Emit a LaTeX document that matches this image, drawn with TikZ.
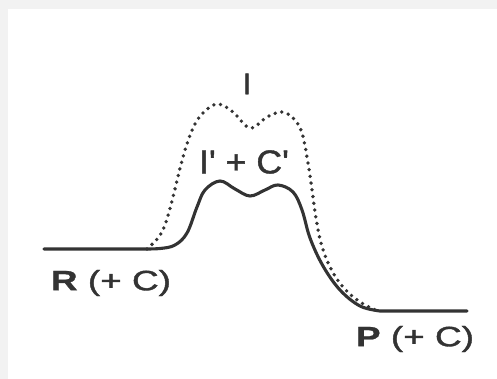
\documentclass[tikz,border=0pt]{standalone}
\usepackage{fontspec}
\setmainfont{Liberation Sans}
\newfontface\lblreg{Liberation Sans}[RawFeature={embolden=1.2}]
\newfontface\lblbold{Liberation Sans Bold}[RawFeature={embolden=0.8}]
\definecolor{ink}{HTML}{333333}
\definecolor{frame}{HTML}{F2F2F2}
\tikzset{
  curve/.style={draw=ink, line width=3.1pt, line cap=round, line join=round},
  dotcurve/.style={draw=ink, line width=3.8pt, line cap=round, dash pattern=on 0pt off 6.8pt},
  lbl/.style={text=ink, inner sep=0pt}
}
\begin{document}
\begin{tikzpicture}[x=1pt,y=-1pt]
\useasboundingbox (0,0) rectangle (497,379);
\fill[frame] (0,0) rectangle (497,379);
\fill[white] (8,9) rectangle (497,379);
% dotted profile
\draw[dotcurve] plot[smooth, tension=0.6] coordinates {
 (147,249) (158,238) (165,225) (173,197) (183,157) (193,128) (204,112) (218,104)
 (233,112) (250,128) (267,117) (282,112) (294,119) (302,133) (308,163)
 (312,190) (316,218) (321,243) (330,267) (343,287) (360,302) (378,311)};
% solid profile
\draw[curve] (44,249) -- (140,249)
  plot[smooth, tension=0.6] coordinates {
 (140,249) (160,248.5) (175,245) (187,233) (197,207) (205,190) (220,181)
 (235,189) (250,196) (265,190) (278,185) (293,192) (302,210) (310,238)
 (323,266) (340,290) (360,306) (380,311)} -- (467,311);
% labels
\node[lbl, font=\lblreg\fontsize{30}{30}\selectfont] (i) at (247,84) {I};
\node[lbl, font=\lblreg\fontsize{33}{33}\selectfont] (ic) at (244,162) {\scalebox{1.08}[1]{I' + C'}};
\node[lbl, font=\lblreg\fontsize{28}{28}\selectfont] (r) at (111,283) {\scalebox{1.32}[1]{{\lblbold R} (+ C)}};
\node[lbl, font=\lblreg\fontsize{28}{28}\selectfont] (p) at (415,339) {\scalebox{1.32}[1]{{\lblbold P} (+ C)}};
\end{tikzpicture}
\end{document}
